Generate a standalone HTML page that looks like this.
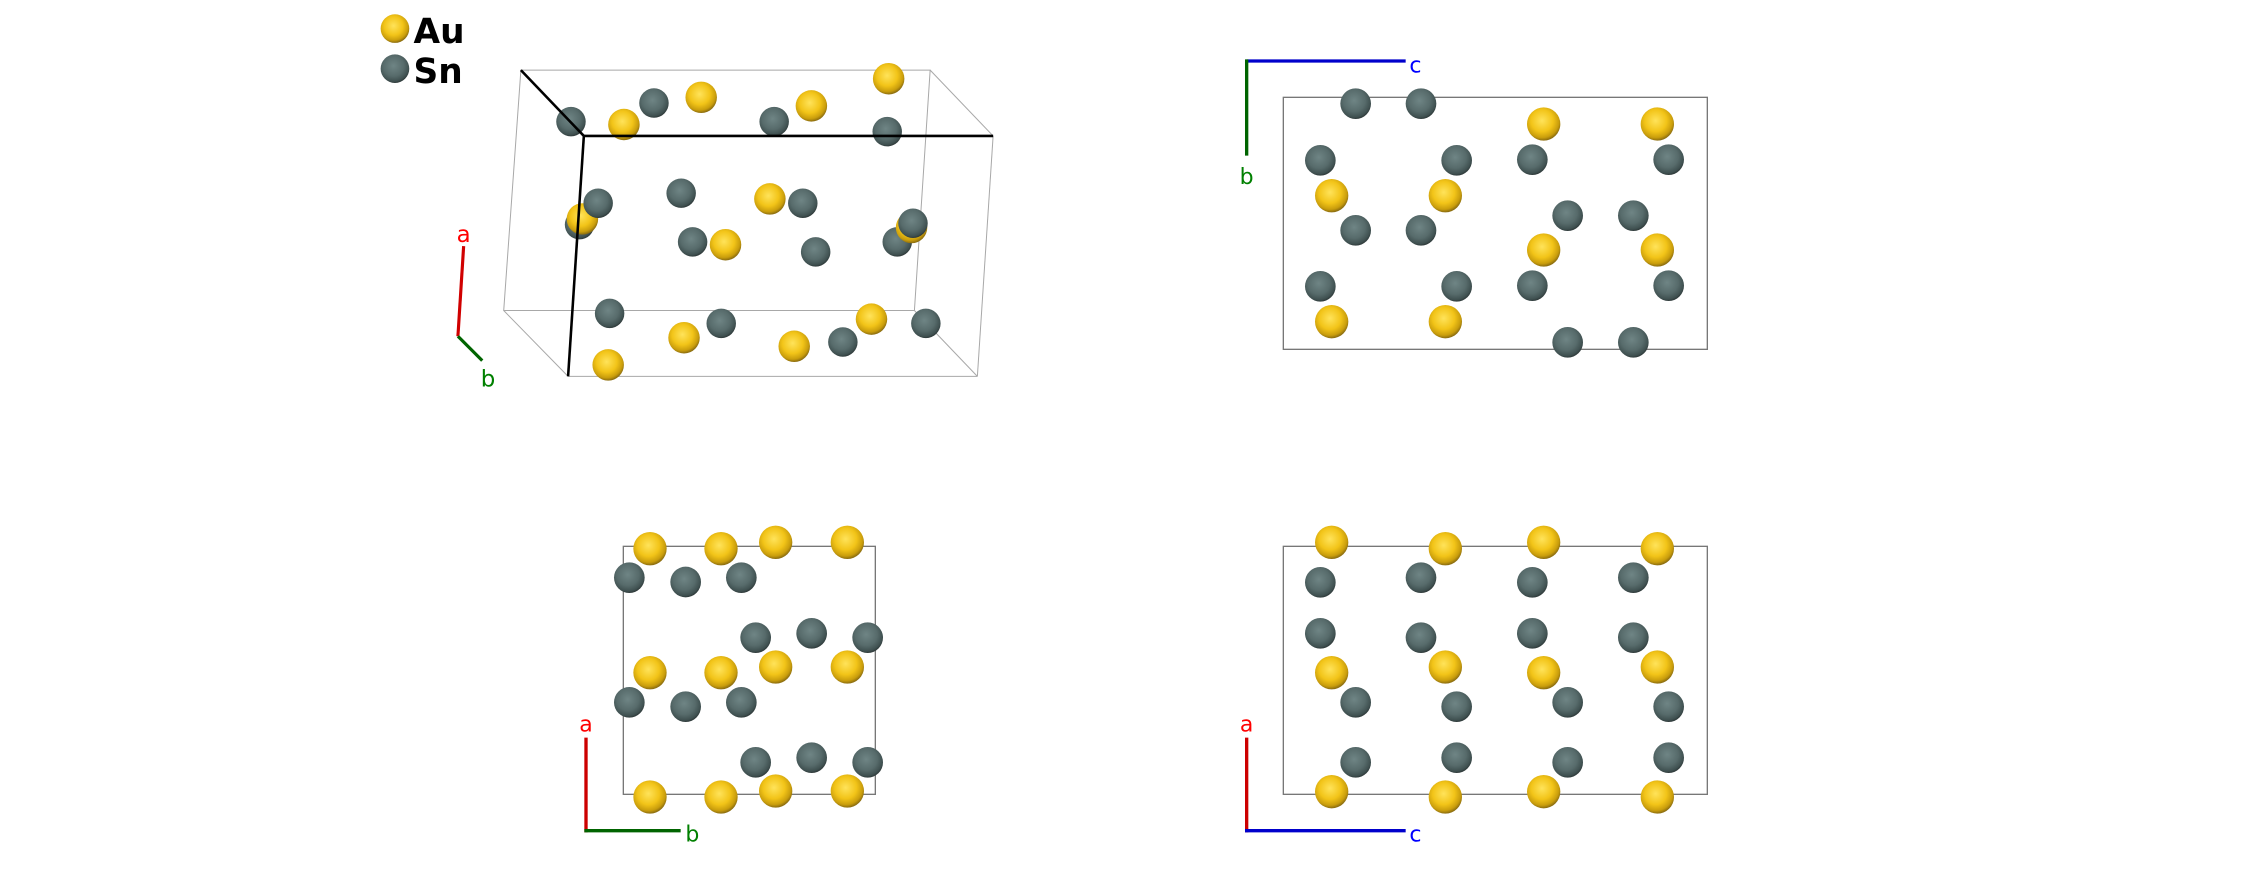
<!DOCTYPE html>
<html><head><meta charset="utf-8"><style>
html,body{margin:0;padding:0;background:#fff;}
svg{display:block;}
text{font-family:"DejaVu Sans","Liberation Sans",sans-serif;}
</style></head><body>
<svg width="2244" height="894" viewBox="0 0 2244 894" xmlns="http://www.w3.org/2000/svg">
<defs>
<radialGradient id="au" cx="0.45" cy="0.4" r="0.6">
<stop offset="0" stop-color="#ffe35a"/><stop offset="0.55" stop-color="#f2c418"/><stop offset="0.85" stop-color="#c99d0c"/><stop offset="1" stop-color="#8a6c10"/></radialGradient>
<radialGradient id="sn" cx="0.45" cy="0.4" r="0.6">
<stop offset="0" stop-color="#6f8585"/><stop offset="0.6" stop-color="#576b6b"/><stop offset="0.9" stop-color="#3f5050"/><stop offset="1" stop-color="#2f3a3a"/></radialGradient>
</defs>

<!-- Panel 1 (overview coords) -->
<g transform="scale(1.431)">
<circle cx="276" cy="20" r="10" fill="url(#au)"/>
<circle cx="276" cy="48" r="10" fill="url(#sn)"/>
<text x="289" y="30" font-size="24" font-weight="bold" fill="#000">Au</text>
<text x="289" y="58" font-size="24" font-weight="bold" fill="#000">Sn</text>
<g stroke="#a8a8a8" stroke-width="0.7" fill="none">
<polygon points="364,49 650,49 639,217 352,217"/>
<line x1="650" y1="49" x2="694" y2="95"/>
<line x1="352" y1="217" x2="397" y2="263"/>
<line x1="639" y1="217" x2="683" y2="263"/>
<line x1="694" y1="95" x2="683" y2="263"/>
<line x1="397" y1="263" x2="683" y2="263"/>
</g>
<g>
<circle cx="621" cy="55" r="11" fill="url(#au)"/>
<circle cx="457" cy="72" r="10.3" fill="url(#sn)"/>
<circle cx="490" cy="68" r="11" fill="url(#au)"/>
<circle cx="541" cy="85" r="10.3" fill="url(#sn)"/>
<circle cx="567" cy="74" r="11" fill="url(#au)"/>
<circle cx="399" cy="85" r="10.3" fill="url(#sn)"/>
<circle cx="436" cy="87" r="11" fill="url(#au)"/>
<circle cx="620" cy="92" r="10.3" fill="url(#sn)"/>
<circle cx="405" cy="157" r="10.3" fill="url(#sn)"/>
<circle cx="407" cy="153" r="11" fill="url(#au)"/>
<circle cx="418" cy="142" r="10.3" fill="url(#sn)"/>
<circle cx="476" cy="135" r="10.3" fill="url(#sn)"/>
<circle cx="538" cy="139" r="11" fill="url(#au)"/>
<circle cx="561" cy="142" r="10.3" fill="url(#sn)"/>
<circle cx="484" cy="169" r="10.3" fill="url(#sn)"/>
<circle cx="507" cy="171" r="11" fill="url(#au)"/>
<circle cx="570" cy="176" r="10.3" fill="url(#sn)"/>
<circle cx="627" cy="169" r="10.3" fill="url(#sn)"/>
<circle cx="637" cy="159" r="11" fill="url(#au)"/>
<circle cx="638" cy="156" r="10.3" fill="url(#sn)"/>
<circle cx="426" cy="219" r="10.3" fill="url(#sn)"/>
<circle cx="504" cy="226" r="10.3" fill="url(#sn)"/>
<circle cx="478" cy="236" r="11" fill="url(#au)"/>
<circle cx="609" cy="223" r="11" fill="url(#au)"/>
<circle cx="589" cy="239" r="10.3" fill="url(#sn)"/>
<circle cx="555" cy="242" r="11" fill="url(#au)"/>
<circle cx="647" cy="226" r="10.3" fill="url(#sn)"/>
<circle cx="425" cy="255" r="11" fill="url(#au)"/>
</g>
<g stroke="#000" stroke-width="1.8" fill="none">
<line x1="364" y1="49" x2="408" y2="95"/>
<line x1="408" y1="95" x2="694" y2="95"/>
<line x1="408" y1="95" x2="397" y2="263"/>
</g>
<line x1="324" y1="172" x2="320" y2="235" stroke="#d00000" stroke-width="2.2"/>
<line x1="320" y1="235" x2="337" y2="252" stroke="#006400" stroke-width="2.2"/>
<text x="324" y="169" font-size="16" fill="#ff0000" text-anchor="middle">a</text>
<text x="341" y="270" font-size="16" fill="#008000" text-anchor="middle">b</text>
</g>

<!-- Panel 2 -->
<g transform="translate(1230,40) scale(0.33333)">
<rect x="160" y="172" width="1272" height="756" fill="none" stroke="#777" stroke-width="4"/>
<line x1="50" y1="63" x2="527" y2="63" stroke="#0000cc" stroke-width="10"/>
<line x1="50" y1="58" x2="50" y2="347" stroke="#006400" stroke-width="10"/>
<text x="538" y="98" font-size="66" fill="#0000ff">c</text>
<text x="50" y="432" font-size="66" fill="#008000" text-anchor="middle">b</text>
<g fill="url(#sn)">
<circle cx="377" cy="191" r="46"/><circle cx="573" cy="191" r="46"/><circle cx="271" cy="361" r="46"/><circle cx="680" cy="361" r="46"/><circle cx="907" cy="359" r="46"/><circle cx="1316" cy="359" r="46"/><circle cx="377" cy="571" r="46"/><circle cx="573" cy="571" r="46"/><circle cx="1013" cy="527" r="46"/><circle cx="1210" cy="527" r="46"/><circle cx="271" cy="739" r="46"/><circle cx="680" cy="739" r="46"/><circle cx="907" cy="737" r="46"/><circle cx="1316" cy="737" r="46"/><circle cx="1013" cy="907" r="46"/><circle cx="1210" cy="907" r="46"/>
</g>
<g fill="url(#au)">
<circle cx="941" cy="252" r="50"/><circle cx="1282" cy="252" r="50"/><circle cx="305" cy="467" r="50"/><circle cx="646" cy="467" r="50"/><circle cx="941" cy="630" r="50"/><circle cx="1282" cy="630" r="50"/><circle cx="305" cy="845" r="50"/><circle cx="646" cy="845" r="50"/>
</g>
</g>

<!-- Panel 3 -->
<g transform="translate(560,510) scale(0.33333)">
<rect x="190" y="109" width="756" height="744" fill="none" stroke="#777" stroke-width="4"/>
<g fill="url(#sn)">
<circle cx="208" cy="203" r="46"/><circle cx="377" cy="216" r="46"/><circle cx="544" cy="203" r="46"/><circle cx="587" cy="383" r="46"/><circle cx="755" cy="370" r="46"/><circle cx="923" cy="383" r="46"/><circle cx="208" cy="577" r="46"/><circle cx="377" cy="590" r="46"/><circle cx="544" cy="577" r="46"/><circle cx="587" cy="757" r="46"/><circle cx="755" cy="743" r="46"/><circle cx="923" cy="757" r="46"/>
</g>
<g fill="url(#au)">
<circle cx="270" cy="116" r="50"/><circle cx="483" cy="116" r="50"/><circle cx="647" cy="97" r="50"/><circle cx="862" cy="97" r="50"/><circle cx="270" cy="488" r="50"/><circle cx="483" cy="488" r="50"/><circle cx="647" cy="471" r="50"/><circle cx="862" cy="471" r="50"/><circle cx="270" cy="861" r="50"/><circle cx="483" cy="861" r="50"/><circle cx="647" cy="843" r="50"/><circle cx="862" cy="843" r="50"/>
</g>
<line x1="78" y1="683" x2="78" y2="967" stroke="#cc0000" stroke-width="10"/>
<line x1="73" y1="962" x2="362" y2="962" stroke="#006400" stroke-width="10"/>
<text x="78" y="664" font-size="66" fill="#ff0000" text-anchor="middle">a</text>
<text x="376" y="995" font-size="66" fill="#008000">b</text>
</g>

<!-- Panel 4 -->
<g transform="translate(1230,510) scale(0.33333)">
<rect x="160" y="109" width="1272" height="744" fill="none" stroke="#777" stroke-width="4"/>
<g fill="url(#sn)">
<circle cx="271" cy="217" r="46"/><circle cx="573" cy="203" r="46"/><circle cx="907" cy="217" r="46"/><circle cx="1210" cy="203" r="46"/><circle cx="271" cy="370" r="46"/><circle cx="573" cy="383" r="46"/><circle cx="907" cy="370" r="46"/><circle cx="1210" cy="383" r="46"/><circle cx="377" cy="577" r="46"/><circle cx="680" cy="590" r="46"/><circle cx="1013" cy="577" r="46"/><circle cx="1316" cy="590" r="46"/><circle cx="377" cy="757" r="46"/><circle cx="680" cy="743" r="46"/><circle cx="1013" cy="757" r="46"/><circle cx="1316" cy="743" r="46"/>
</g>
<g fill="url(#au)">
<circle cx="305" cy="97" r="50"/><circle cx="646" cy="116" r="50"/><circle cx="941" cy="97" r="50"/><circle cx="1282" cy="116" r="50"/><circle cx="305" cy="488" r="50"/><circle cx="646" cy="471" r="50"/><circle cx="941" cy="488" r="50"/><circle cx="1282" cy="471" r="50"/><circle cx="305" cy="845" r="50"/><circle cx="646" cy="861" r="50"/><circle cx="941" cy="845" r="50"/><circle cx="1282" cy="861" r="50"/>
</g>
<line x1="50" y1="683" x2="50" y2="967" stroke="#cc0000" stroke-width="10"/>
<line x1="45" y1="962" x2="527" y2="962" stroke="#0000cc" stroke-width="10"/>
<text x="50" y="664" font-size="66" fill="#ff0000" text-anchor="middle">a</text>
<text x="538" y="995" font-size="66" fill="#0000ff">c</text>
</g>
</svg>
</body></html>
